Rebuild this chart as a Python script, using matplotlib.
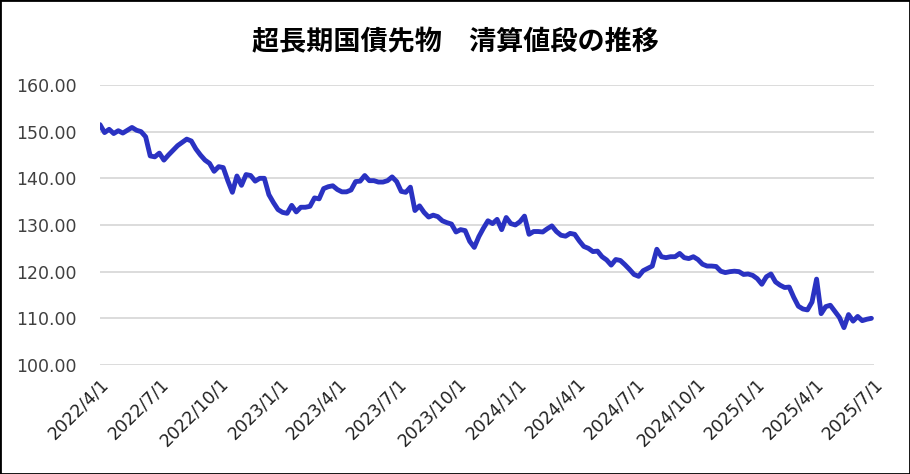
import pandas as pd
import matplotlib
matplotlib.use("Agg")
import matplotlib.pyplot as plt
from matplotlib.patches import Rectangle

# weekly settlement prices
start_date = "2022-04-01"
prices = [
    151.5, 149.8, 150.5, 149.6, 150.2, 149.7, 150.3, 150.9, 150.3, 150.0,
    148.9, 144.8, 144.6, 145.4, 143.9, 145.0, 146.0, 147.0, 147.7, 148.4,
    148.0, 146.3, 145.0, 143.9, 143.2, 141.5, 142.5, 142.3, 139.5, 137.0,
    140.5, 138.5, 140.8, 140.6, 139.4, 140.0, 140.0, 136.5, 134.8, 133.3,
    132.7, 132.5, 134.2, 132.8, 133.8, 133.8, 134.0, 135.8, 135.6, 137.8,
    138.2, 138.4, 137.6, 137.1, 137.1, 137.5, 139.3, 139.4, 140.6, 139.5,
    139.5, 139.2, 139.2, 139.5, 140.3, 139.3, 137.2, 137.0, 138.1, 133.1,
    134.1, 132.7, 131.7, 132.1, 131.8, 130.9, 130.5, 130.2, 128.5, 129.0,
    128.8, 126.5, 125.2, 127.5, 129.3, 130.9, 130.3, 131.2, 129.0, 131.6,
    130.3, 130.0, 130.7, 131.9, 128.0, 128.6, 128.6, 128.5, 129.2, 129.8,
    128.6, 127.8, 127.6, 128.2, 128.0, 126.6, 125.4, 125.0, 124.3, 124.4,
    123.2, 122.5, 121.4, 122.6, 122.4, 121.5, 120.5, 119.4, 119.0, 120.2,
    120.7, 121.2, 124.8, 123.2, 123.0, 123.2, 123.2, 123.9, 123.0, 122.8,
    123.2, 122.6, 121.6, 121.2, 121.2, 121.1, 120.1, 119.8, 120.0, 120.1,
    120.0, 119.4, 119.5, 119.2, 118.5, 117.3, 118.9, 119.5, 117.8, 117.1,
    116.6, 116.7, 114.5, 112.6, 112.0, 111.8, 113.5, 118.4, 111.0, 112.5,
    112.8, 111.5, 110.2, 108.0, 110.8, 109.4, 110.4, 109.5, 109.8, 110.0,
]
dates = pd.date_range(start_date, periods=len(prices), freq="7D")

tick_dates = pd.date_range("2022-04-01", "2025-07-01", freq="QS")
y_ticks = [100, 110, 120, 130, 140, 150, 160]
title = "超長期国債先物　清算値段の推移"

fig = plt.figure(figsize=(9.1, 4.74), dpi=100)
ax = fig.add_axes([0.1099, 0.23, 0.8505, 0.5907])

ax.plot(dates, prices, color="#2A32C2", lw=3.5, solid_joinstyle="round",
        solid_capstyle="round")

ax.set_ylim(100, 160)
ax.set_xlim(tick_dates[0], tick_dates[-1])
ax.set_yticks(y_ticks)
ax.set_yticklabels([f"{v:.2f}" for v in y_ticks])
ax.set_xticks(tick_dates)
ax.set_xticklabels([f"{d.year}/{d.month}/{d.day}" for d in tick_dates])

ax.grid(axis="y", color="#D9D9D9", lw=1.3)
ax.set_axisbelow(True)
for s in ax.spines.values():
    s.set_visible(False)
ax.tick_params(axis="y", length=0, pad=17, labelsize=12.5, labelcolor="#404040")
ax.tick_params(axis="x", length=0, pad=7, labelsize=12.5, labelcolor="#202020")
plt.setp(ax.get_xticklabels(), rotation=45, ha="right", rotation_mode="anchor")

fig.text(0.5, 1 - 42 / 474, title, ha="center", va="center", fontsize=19.5,
         fontweight="bold", family=["Noto Sans CJK JP", "DejaVu Sans"])

fig.add_artist(Rectangle((0, 0), 1, 1, transform=fig.transFigure, fill=False,
                         edgecolor="black", lw=2))

fig.savefig("out.png", dpi=100)
